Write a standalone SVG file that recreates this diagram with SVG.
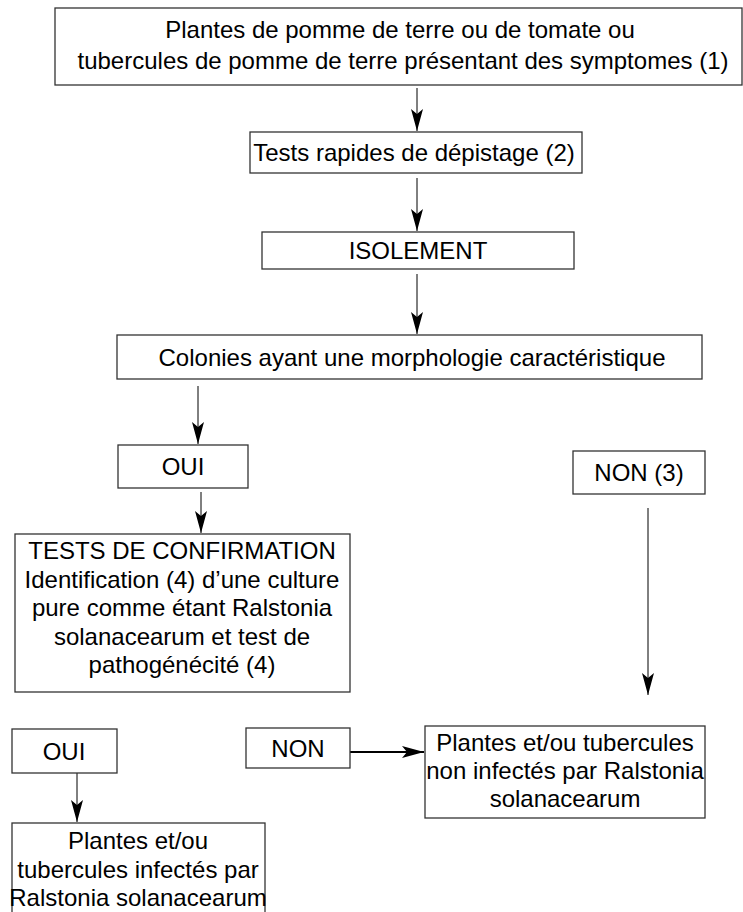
<svg xmlns="http://www.w3.org/2000/svg" width="743" height="912" viewBox="0 0 743 912">
<style>
  .box{fill:#fff;stroke:#333;stroke-width:1.3}
  .t{font-family:"Liberation Sans",Arial,sans-serif;font-size:24px;fill:#000;text-anchor:middle}
  .c{stroke:#000;stroke-width:1;fill:none;marker-end:url(#ah)}
  .c2{stroke:#000;stroke-width:2.2;fill:none;marker-end:url(#ah)}
</style>
<defs>
  <marker id="ah" viewBox="0 0 22 12" refX="22" refY="6" markerWidth="22" markerHeight="12" markerUnits="userSpaceOnUse" orient="auto">
    <path d="M0,0 L22,6 L0,12 L5,6 z" fill="#000"/>
  </marker>
</defs>
<rect width="743" height="912" fill="#fff"/>
<g id="connectors">
  <line class="c" x1="417" y1="88" x2="417" y2="131"/>
  <line class="c" x1="417" y1="178" x2="417" y2="231"/>
  <line class="c" x1="417" y1="274" x2="417" y2="334"/>
  <line class="c" x1="198" y1="386" x2="198" y2="444"/>
  <line class="c" x1="201" y1="492" x2="201" y2="533"/>
  <line class="c" x1="648" y1="508" x2="648" y2="695"/>
  <line class="c2" x1="350" y1="752" x2="424" y2="752"/>
  <line class="c" x1="77" y1="773" x2="77" y2="822"/>
</g>
<g id="n1">
  <rect class="box" x="55" y="8" width="687" height="77"/>
  <text class="t" x="400" y="38">Plantes de pomme de terre ou de tomate ou</text>
  <text class="t" x="403" y="69">tubercules de pomme de terre présentant des symptomes (1)</text>
</g>
<g id="n2">
  <rect class="box" x="250" y="132" width="332" height="41"/>
  <text class="t" x="414" y="161">Tests rapides de dépistage (2)</text>
</g>
<g id="n3">
  <rect class="box" x="262" y="232" width="312" height="37"/>
  <text class="t" x="418" y="259">ISOLEMENT</text>
</g>
<g id="n4">
  <rect class="box" x="117" y="335" width="585" height="44"/>
  <text class="t" x="412" y="366">Colonies ayant une morphologie caractéristique</text>
</g>
<g id="n5">
  <rect class="box" x="118" y="445" width="130" height="43"/>
  <text class="t" x="183" y="475">OUI</text>
</g>
<g id="n6">
  <rect class="box" x="573" y="451" width="132" height="43"/>
  <text class="t" x="639" y="481">NON (3)</text>
</g>
<g id="n7">
  <rect class="box" x="15" y="534" width="335" height="158"/>
  <text class="t" x="182" y="559">TESTS DE CONFIRMATION</text>
  <text class="t" x="182" y="588">Identification (4) d’une culture</text>
  <text class="t" x="182" y="616">pure comme étant Ralstonia</text>
  <text class="t" x="182" y="645">solanacearum et test de</text>
  <text class="t" x="182" y="673">pathogénécité (4)</text>
</g>
<g id="n8">
  <rect class="box" x="12" y="729" width="105" height="44"/>
  <text class="t" x="64" y="760">OUI</text>
</g>
<g id="n9">
  <rect class="box" x="246" y="728" width="104" height="40"/>
  <text class="t" x="298" y="757">NON</text>
</g>
<g id="n10">
  <rect class="box" x="425" y="726" width="280" height="92"/>
  <text class="t" x="565" y="751">Plantes et/ou tubercules</text>
  <text class="t" x="565" y="779">non infectés par Ralstonia</text>
  <text class="t" x="565" y="807">solanacearum</text>
</g>
<g id="n11">
  <rect class="box" x="12" y="823" width="253" height="100"/>
  <text class="t" x="138" y="849">Plantes et/ou</text>
  <text class="t" x="138" y="878">tubercules infectés par</text>
  <text class="t" x="138" y="906">Ralstonia solanacearum</text>
</g>
</svg>
